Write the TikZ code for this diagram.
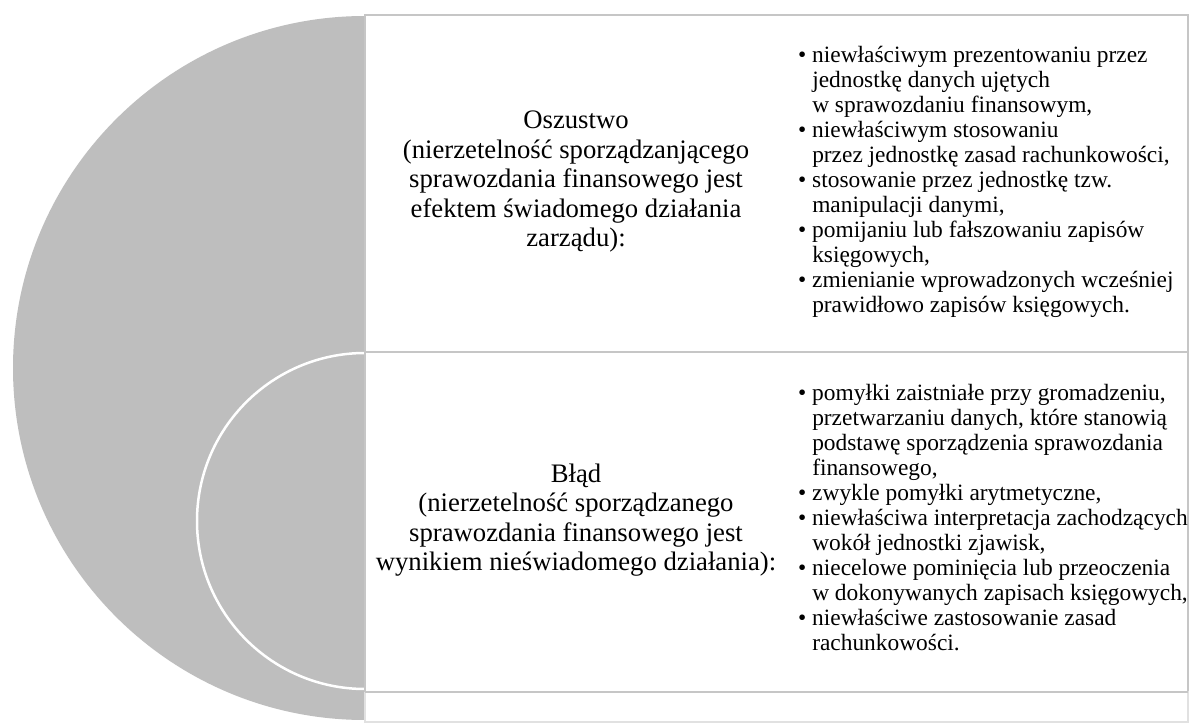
\documentclass[tikz,border=0pt]{standalone}
\usepackage{fontspec}
\setmainfont{Liberation Serif}
\definecolor{shapegray}{RGB}{190,190,190}
\definecolor{linegray}{RGB}{198,198,198}
\definecolor{faintgray}{RGB}{225,225,225}
\tikzset{
  box/.style={draw=linegray, line width=2pt, fill=white, inner sep=0pt, outer sep=0pt, anchor=north west},
  headtext/.style={align=center, inner sep=0pt, font=\fontsize{26.7}{29.5}\selectfont},
  listtext/.style={align=left, inner sep=0pt, anchor=west, font=\fontsize{23.4}{25}\selectfont},
}
\newcommand{\ind}{\hphantom{•\ }}
\begin{document}
\begin{tikzpicture}[x=1pt,y=1pt]
\useasboundingbox (0,0) rectangle (1192,724);
\fill[white] (0,0) rectangle (1192,724);
% big half circle and inner white arc
\begin{scope}
  \clip (0,0) rectangle (365,724);
  \fill[shapegray] (365,356) circle[radius=352];
  \draw[white, line width=2.5pt] (365,203) circle[radius=168];
\end{scope}
% boxes
\node[box, minimum width=823pt, minimum height=337pt] (topbox) at (365,709) {};
\node[box, minimum width=823pt, minimum height=340pt] (botbox) at (365,372) {};
\node[box, draw=faintgray, minimum width=823pt, minimum height=30pt] (lastbox) at (365,32) {};
\draw[linegray, line width=2pt] (topbox.north west) -- (botbox.south west);
\draw[linegray, line width=2pt] (botbox.south east) -- (botbox.south west);
% texts
\node[headtext] (oszustwo) at (576,542) {Oszustwo\\(nierzetelność sporządzanjącego\\sprawozdania finansowego jest\\efektem świadomego działania\\zarządu):};
\node[headtext] (blad) at (576,204) {Błąd\\(nierzetelność sporządzanego\\sprawozdania finansowego jest\\wynikiem nieświadomego działania):};
\node[listtext] (oszlist) at (798,542) {•\ niewłaściwym prezentowaniu przez\\
\ind jednostkę danych ujętych\\
\ind w sprawozdaniu finansowym,\\
•\ niewłaściwym stosowaniu\\
\ind przez jednostkę zasad rachunkowości,\\
•\ stosowanie przez jednostkę tzw.\\
\ind manipulacji danymi,\\
•\ pomijaniu lub fałszowaniu zapisów\\
\ind księgowych,\\
•\ zmienianie wprowadzonych wcześniej\\
\ind prawidłowo zapisów księgowych.};
\node[listtext] (bladlist) at (798,206) {•\ pomyłki zaistniałe przy gromadzeniu,\\
\ind przetwarzaniu danych, które stanowią\\
\ind podstawę sporządzenia sprawozdania\\
\ind finansowego,\\
•\ zwykle pomyłki arytmetyczne,\\
•\ niewłaściwa interpretacja zachodzących\\
\ind wokół jednostki zjawisk,\\
•\ niecelowe pominięcia lub przeoczenia\\
\ind w dokonywanych zapisach księgowych,\\
•\ niewłaściwe zastosowanie zasad\\
\ind rachunkowości.};
\end{tikzpicture}
\end{document}
